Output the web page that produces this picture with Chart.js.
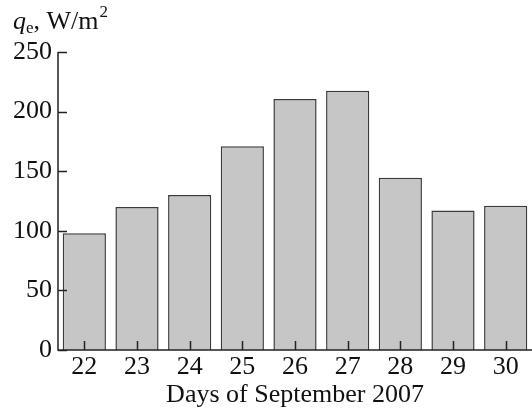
<!DOCTYPE html>
<html>
<head>
<meta charset="utf-8">
<script src="https://cdn.jsdelivr.net/npm/chart.js@4"></script>
<style>
  html, body { margin: 0; padding: 0; background: #fff; }
  #wrap { width: 532px; height: 411px; }
</style>
</head>
<body>
<div id="wrap"><canvas id="fluxChart" width="532" height="411"></canvas></div>
<script>
// days of September 2007 and daily mean flux q_e, W/m2
const days = ['22', '23', '24', '25', '26', '27', '28', '29', '30'];
const fluxValues = [98, 120, 130, 171, 210.5, 217.5, 144.5, 117, 121];
const yTicks = [0, 50, 100, 150, 200, 250];

const serif = '"Liberation Serif", "DejaVu Serif", serif';

// ticks drawn inward, as in the original figure
const inwardTicks = {
    id: 'inwardTicks',
    afterDatasetsDraw(chart) {
        const c = chart.ctx;
        const x = chart.scales.x, y = chart.scales.y;
        c.save();
        c.strokeStyle = '#222';
        c.lineWidth = 1.5;
        c.beginPath();
        yTicks.forEach(v => {
            const py = Math.round(y.getPixelForValue(v)) + 0.5;
            c.moveTo(x.left, py);
            c.lineTo(x.left + 9, py);
        });
        days.forEach((d, i) => {
            const px = Math.round(x.getPixelForValue(i)) + 0.5;
            c.moveTo(px, y.bottom);
            c.lineTo(px, y.bottom - 9);
        });
        // axis lines
        c.moveTo(x.left, y.top);
        c.lineTo(x.left, y.bottom);
        c.lineTo(x.right, y.bottom);
        c.stroke();

        // y axis title: q_e, W/m^2
        c.fillStyle = '#111';
        c.textBaseline = 'alphabetic';
        let tx = 13, by = 29;
        c.font = 'italic 26px ' + serif;
        c.fillText('q', tx, by);
        tx += c.measureText('q').width;
        c.font = '17px ' + serif;
        c.fillText('e', tx, by + 4);
        tx += c.measureText('e').width;
        c.font = '26px ' + serif;
        c.fillText(', W/m', tx, by);
        tx += c.measureText(', W/m').width;
        c.font = '17px ' + serif;
        c.fillText('2', tx + 1, by - 12);
        c.restore();
    }
};

new Chart(document.getElementById('fluxChart'), {
    type: 'bar',
    data: {
        labels: days,
        datasets: [{
            data: fluxValues,
            backgroundColor: '#c5c6c5',
            borderColor: '#3a3a3a',
            borderWidth: 1.5,
            barPercentage: 1,
            categoryPercentage: 0.82
        }]
    },
    options: {
        responsive: false,
        animation: false,
        layout: { padding: { top: 52, right: 0, left: 0, bottom: 0 } },
        plugins: {
            legend: { display: false },
            tooltip: { enabled: false }
        },
        scales: {
            x: {
                grid: { display: false, drawTicks: false },
                border: { display: false },
                ticks: { color: '#111', font: { family: serif, size: 26 }, padding: 2, maxRotation: 0 },
                title: {
                    display: true,
                    text: 'Days of September 2007',
                    color: '#111',
                    font: { family: serif, size: 26 },
                    padding: { top: -9, bottom: 0 }
                },
                afterFit: s => { s.height = 61; }
            },
            y: {
                min: 0,
                max: 250,
                grid: { display: false, drawTicks: false },
                border: { display: false },
                ticks: { stepSize: 50, color: '#111', font: { family: serif, size: 26 }, padding: 6 },
                afterFit: s => { s.width = 58; }
            }
        }
    },
    plugins: [inwardTicks]
});
</script>
</body>
</html>
